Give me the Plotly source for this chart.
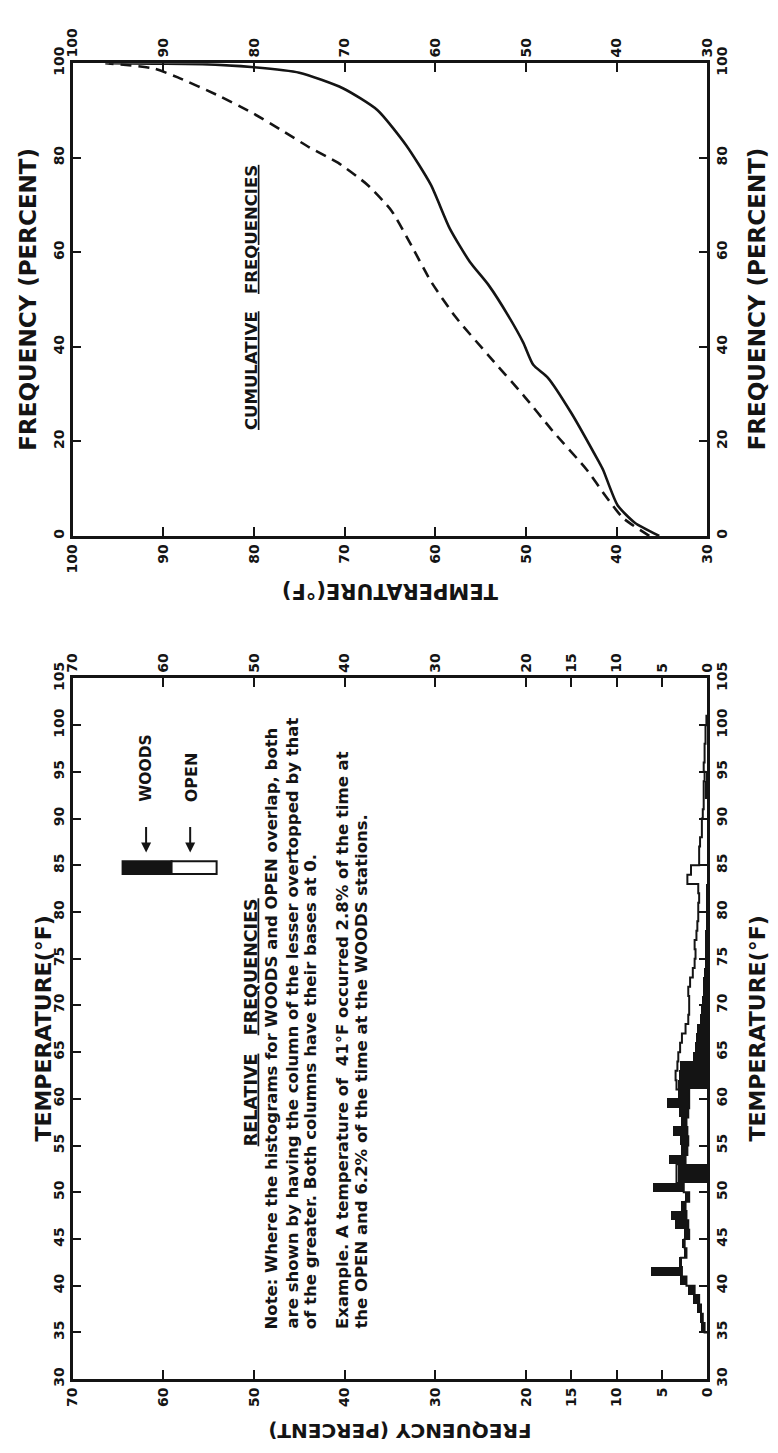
import plotly.graph_objects as go

W, H = 778, 1453

# ---------------- cumulative frequencies (percent of hours at or below T) ----------------
cum_temp_woods = [35.3, 38.0, 39.9, 41.5, 42.0, 45.0, 47.6, 49.2, 50.3, 51.9, 54.1, 56.2,
                  58.4, 60.5, 63.2, 66.4, 70.2, 75.0, 80.3, 85.7, 91.0, 96.0]
cum_freq_woods = [0.0, 2.8, 6.5, 14.0, 15.8, 26.0, 33.5, 36.2, 40.9, 46.4, 53.0, 58.0,
                  65.0, 74.3, 82.6, 90.1, 94.7, 98.0, 99.2, 99.8, 99.9, 100.0]
cum_temp_open = [36.4, 39.3, 41.2, 43.3, 47.1, 50.3, 54.1, 57.8, 60.5, 62.6, 64.8, 67.5,
                 70.7, 73.9, 76.6, 80.3, 84.1, 88.4, 91.1, 96.4]
cum_freq_open = [0.0, 3.8, 8.4, 14.0, 22.3, 29.8, 38.1, 46.4, 53.9, 61.3, 68.7, 74.3,
                 78.9, 82.2, 85.4, 89.6, 93.3, 97.0, 98.9, 100.0]

# ---------------- relative frequencies, 1 degree F classes [T, T+1) ----------------
hist_temp = list(range(35, 101))
woods_pct = [0.7, 0.9, 1.2, 1.6, 2.2, 3.0, 6.2,                    # 35-41
             3.2, 2.6, 2.8, 2.6, 3.6, 4.0, 2.9, 2.5,               # 42-49
             6.0, 3.3, 3.3, 4.3, 2.9, 3.0, 3.8, 2.9, 3.2, 4.5,     # 50-59
             3.3, 3.3, 3.2, 3.0, 1.6, 1.4, 1.3, 1.2,               # 60-67
             0.9, 0.7, 0.6, 0.55, 0.5, 0.4, 0.35, 0.3, 0.3, 0.25,  # 68-77
             0.2, 0.15, 0.1, 0.1, 0.1, 0.05,                       # 78-83
             0.0, 0.0, 0.0, 0.0, 0.0, 0.0, 0.0, 0.0,               # 84-91
             0.25, 0.3, 0.2,                                       # 92-94
             0.0, 0.0, 0.0, 0.0, 0.0, 0.0]                         # 95-100
open_pct = [0.3, 0.5, 0.7, 0.9, 1.4, 2.3, 2.8,                     # 35-41
            2.9, 2.3, 2.5, 2.0, 2.1, 2.3, 2.4, 2.0,                # 42-49
            2.6, 3.4, 3.4, 2.4, 2.2, 2.1, 2.2, 2.3, 2.1, 2.0,      # 50-59
            2.0, 3.4, 3.5, 3.3, 3.2, 3.0, 2.8, 2.4,                # 60-67
            2.1, 2.0, 2.0, 2.1, 1.9, 1.6, 1.4, 1.3, 1.4, 1.2,      # 68-77
            1.1, 1.0, 1.0, 0.9, 1.0, 2.2,                          # 78-83
            1.8, 0.9, 0.9, 0.8, 0.6, 0.6, 0.5, 0.4,                # 84-91
            0.4, 0.4, 0.3,                                         # 92-94
            0.4, 0.3, 0.3, 0.2, 0.2, 0.1]                          # 95-100

temp_ticks_top = [100, 90, 80, 70, 60, 50, 40, 30]
freq_ticks_top = [0, 20, 40, 60, 80, 100]
temp_ticks_bot = list(range(30, 106, 5))
freq_ticks_bot = [0, 5, 10, 15, 20, 30, 40, 50, 60, 70]

note_lines = [
    "Note: Where the histograms for WOODS and OPEN overlap, both",
    "are shown by having the column of the lesser overtopped by that",
    "of the greater. Both columns have their bases at 0.",
]
example_lines = [
    "Example. A temperature of  41°F occurred 2.8% of the time at",
    "the OPEN and 6.2% of the time at the WOODS stations.",
]

INK = "#141414"
FONT = "DejaVu Sans"


def px(x):
    return x / W


def py(y):
    return 1 - y / H


# the greater column is drawn first, the lesser one is laid over it
back_val, back_col, front_val, front_col = [], [], [], []
for w, o in zip(woods_pct, open_pct):
    if w >= o:
        back_val.append(w); back_col.append(INK)
        front_val.append(o); front_col.append("white")
    else:
        back_val.append(o); back_col.append("white")
        front_val.append(w); front_col.append(INK)

fig = go.Figure()

fig.add_trace(go.Scatter(x=cum_temp_woods, y=cum_freq_woods, mode="lines",
                         line=dict(color=INK, width=2.6, shape="spline", smoothing=0.6),
                         xaxis="x", yaxis="y", name="WOODS", hoverinfo="skip"))
fig.add_trace(go.Scatter(x=cum_temp_open, y=cum_freq_open, mode="lines",
                         line=dict(color=INK, width=2.6, dash="11px,7px", shape="spline",
                                   smoothing=0.6),
                         xaxis="x", yaxis="y", name="OPEN", hoverinfo="skip"))

for vals, cols in ((back_val, back_col), (front_val, front_col)):
    fig.add_trace(go.Bar(y=hist_temp, x=vals, orientation="h", offset=0, width=1,
                         marker=dict(color=cols, line=dict(width=0)),
                         xaxis="x2", yaxis="y2", hoverinfo="skip"))

# stepped outline of the OPEN histogram (one riser per class boundary)
top_edge = hist_temp[-1] + 1
fig.add_trace(go.Scatter(x=[0] + open_pct + [open_pct[-1], 0],
                         y=[hist_temp[0]] + hist_temp + [top_edge, top_edge],
                         mode="lines", line=dict(color=INK, width=2, shape="vh"),
                         xaxis="x2", yaxis="y2", hoverinfo="skip"))

# empty traces so the mirrored label axes are built
fig.add_trace(go.Scatter(x=[], y=[], xaxis="x3", yaxis="y", hoverinfo="skip"))
fig.add_trace(go.Scatter(x=[], y=[], xaxis="x", yaxis="y3", hoverinfo="skip"))
fig.add_trace(go.Scatter(x=[], y=[], xaxis="x4", yaxis="y2", hoverinfo="skip"))
fig.add_trace(go.Scatter(x=[], y=[], xaxis="x2", yaxis="y4", hoverinfo="skip"))

tickfont = dict(family=FONT, size=14, color=INK, weight="bold")
common = dict(showline=True, linecolor=INK, linewidth=2.6, ticks="inside", ticklen=9,
              tickwidth=2, tickcolor=INK, showgrid=False, zeroline=False,
              tickangle=-90, tickfont=tickfont, fixedrange=True)

xdom = [px(66), px(714)]
ydom_top = [py(528), py(47)]
ydom_bot = [py(1386), py(673)]

fig.update_layout(
    width=W, height=H, autosize=False,
    margin=dict(l=0, r=0, t=0, b=0),
    paper_bgcolor="white", plot_bgcolor="white",
    showlegend=False, barmode="overlay", bargap=0,
    xaxis=dict(domain=xdom, range=[100, 30], anchor="y", tickvals=temp_ticks_top, **common),
    yaxis=dict(domain=ydom_top, range=[0, 100], anchor="x", tickvals=freq_ticks_top, **common),
    xaxis3=dict(range=[100, 30], anchor="y", overlaying="x", side="top",
                tickvals=temp_ticks_top, **common),
    yaxis3=dict(range=[0, 100], anchor="x", overlaying="y", side="right",
                tickvals=freq_ticks_top, **common),
    xaxis2=dict(domain=xdom, range=[70, 0], anchor="y2", tickvals=freq_ticks_bot, **common),
    yaxis2=dict(domain=ydom_bot, range=[30, 105], anchor="x2", tickvals=temp_ticks_bot, **common),
    xaxis4=dict(range=[70, 0], anchor="y2", overlaying="x2", side="top",
                tickvals=freq_ticks_bot, **common),
    yaxis4=dict(range=[30, 105], anchor="x2", overlaying="y2", side="right",
                tickvals=temp_ticks_bot, **common),
)


def label(text, x, y, size, angle=-90, xa="center", ya="middle", align="center"):
    fig.add_annotation(text=text, x=px(x), y=py(y), xref="paper", yref="paper",
                       showarrow=False, textangle=angle, xanchor=xa, yanchor=ya,
                       align=align,
                       font=dict(family=FONT, size=size, color=INK, weight="bold"))


# upper panel
label("FREQUENCY (PERCENT)", 20, 287, 23)
label("FREQUENCY (PERCENT)", 765, 287, 23)
label("TEMPERATURE(°F)", 390, 584, 21, angle=180)
label("<u>CUMULATIVE</u>   <u>FREQUENCIES</u>", 248, 285, 16.5)

# lower panel
label("TEMPERATURE(°F)", 36, 1029, 22)
label("TEMPERATURE(°F)", 765, 1029, 22)
label("FREQUENCY (PERCENT)", 400, 1438, 20, angle=180)
label("<u>RELATIVE</u>   <u>FREQUENCIES</u>", 248, 1023, 17.5)
for line, lx in zip(note_lines, (270, 290, 309)):
    label(line, lx, 1337, 16.5, ya="bottom")
for line, lx in zip(example_lines, (342, 361)):
    label(line, lx, 1337, 16.5, ya="bottom")
label("WOODS", 141, 801, 15.5, ya="bottom")
label("OPEN", 187, 801, 16, ya="bottom")

for ax_x in (141, 186):
    fig.add_annotation(text="", x=px(ax_x), y=py(850), xref="paper", yref="paper",
                       showarrow=True, ax=0, ay=-27, arrowhead=2, arrowsize=1,
                       arrowwidth=2, arrowcolor=INK, standoff=0)

# legend key: a solid and an open column side by side
fig.add_shape(type="rect", xref="paper", yref="paper", x0=px(117), x1=px(167),
              y0=py(872), y1=py(859), fillcolor=INK, line=dict(color=INK, width=2))
fig.add_shape(type="rect", xref="paper", yref="paper", x0=px(167), x1=px(213),
              y0=py(872), y1=py(859), fillcolor="white", line=dict(color=INK, width=2))

fig.write_html("out.html")
